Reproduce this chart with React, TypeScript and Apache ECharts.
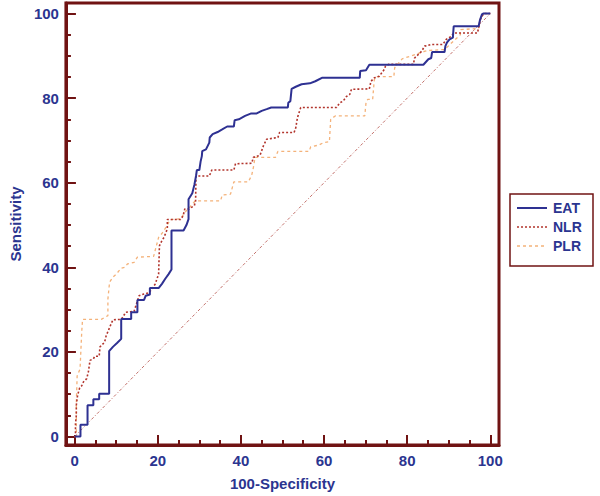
import React, { useEffect, useRef } from "react";
import * as echarts from "echarts";

const seriesNames = ["EAT", "NLR", "PLR"];

const eatCurve: number[][] = [
  [0, 0], [1.4, 0], [1.4, 2.8], [3.1, 2.8], [3.1, 7.4], [4.5, 7.4], [4.5, 8.8], [5.9, 8.8], [5.9, 10.1],
  [8.3, 10.1], [8.3, 20.2], [9.2, 21.2], [10.2, 22.1], [11.2, 23.1], [11.2, 27.8], [13.6, 27.8], [13.6, 29.4],
  [15.1, 29.4], [15.1, 32.3], [16.7, 32.3], [17.1, 33.3], [18.1, 33.6], [18.1, 35.1], [20.2, 35.1], [21.0, 36.1],
  [21.8, 37.3], [22.6, 38.4], [23.3, 39.5], [23.3, 48.7], [26.2, 48.7], [26.9, 50.0], [27.4, 51.4], [27.4, 56.1],
  [28.3, 57.5], [28.8, 59.5], [29.2, 61.6], [29.4, 63.0], [30.0, 63.0], [30.3, 65.0], [30.6, 66.3], [30.7, 67.5],
  [31.6, 67.9], [32.4, 69.5], [32.5, 70.7], [33.2, 71.5], [34.4, 72.0], [35.5, 72.6], [36.7, 73.3], [38.3, 73.3],
  [38.5, 74.8], [39.5, 75.0], [41.0, 75.8], [42.5, 76.4], [43.8, 76.4], [45.0, 77.0], [46.2, 77.4], [47.3, 77.8],
  [51.3, 77.8], [51.4, 78.9], [51.9, 79.3], [52.2, 82.2], [53.2, 82.7], [54.6, 83.3], [56.6, 83.5], [57.9, 84.0],
  [59.5, 84.8], [68.6, 84.8], [68.7, 86.4], [70.1, 86.6], [70.9, 87.9], [83.9, 87.9], [85.1, 89.2], [85.8, 89.5],
  [86.0, 90.9], [89.0, 90.9], [89.2, 92.3], [89.6, 93.2], [90.2, 93.9], [91.0, 94.3], [91.2, 97.0], [97.2, 97.0],
  [97.5, 98.4], [98.0, 99.8], [98.3, 100], [100, 100],
];

const nlrCurve: number[][] = [
  [0, 0], [0.2, 0], [0.2, 3.1], [0.4, 5.0], [0.4, 7.4], [0.7, 9.7], [1.2, 11.5], [1.7, 12.0], [2.1, 12.9],
  [2.9, 13.7], [3.3, 15.3], [3.7, 18.0], [4.5, 18.4], [4.9, 19.0], [5.9, 19.0], [6.1, 21.2], [7.2, 22.3],
  [7.6, 23.9], [8.0, 24.8], [8.8, 26.7], [9.2, 27.6], [11.2, 27.7], [12.0, 28.9], [12.3, 29.4], [13.4, 29.5],
  [14.3, 29.6], [15.5, 33.3], [16.7, 33.7], [17.9, 34.0], [18.6, 34.9], [19.4, 36.1], [20.2, 38.4], [20.4, 45.1],
  [21.0, 46.3], [21.5, 47.1], [22.3, 49.1], [22.3, 51.3], [25.5, 51.3], [26.1, 52.2], [26.5, 53.8], [27.5, 53.8],
  [28.8, 54.6], [29.1, 55.7], [29.2, 61.6], [32.4, 61.6], [33.0, 63.0], [38.3, 63.0], [38.7, 64.5], [42.6, 64.6],
  [43.0, 66.0], [44.6, 66.5], [45.4, 68.7], [46.2, 70.3], [48.9, 70.7], [49.3, 71.9], [52.8, 71.9], [53.2, 73.0],
  [53.6, 75.4], [54.4, 77.8], [63.0, 77.8], [63.8, 78.9], [64.6, 79.3], [65.4, 80.4], [66.2, 80.9], [66.6, 82.1],
  [70.9, 82.2], [71.3, 84.0], [72.1, 84.8], [73.3, 85.2], [74.5, 86.8], [74.8, 87.6], [75.6, 88.0], [81.5, 88.0],
  [81.8, 89.5], [83.5, 91.1], [84.2, 92.3], [85.8, 92.7], [88.6, 92.7], [89.4, 93.9], [90.6, 94.6], [91.2, 95.4],
  [96.9, 95.4], [97.2, 96.6], [97.6, 98.6], [98.4, 100], [100, 100],
];

const plrCurve: number[][] = [
  [0, 0], [0.4, 0], [0.4, 8.0], [0.6, 14.3], [1.3, 16.0], [1.7, 24.7], [1.9, 27.7], [6.4, 27.7], [8.0, 28.6],
  [8.0, 32.5], [8.4, 36.5], [9.2, 37.7], [10.0, 38.4], [11.2, 39.8], [12.0, 40.0], [12.7, 40.8], [14.3, 41.2],
  [15.1, 42.4], [19.0, 42.6], [20.2, 47.1], [21.0, 48.0], [22.0, 49.5], [23.0, 51.3], [25.5, 51.5], [26.5, 53.0],
  [27.5, 54.0], [29.0, 55.7], [35.1, 55.7], [35.5, 57.1], [37.5, 57.3], [38.3, 60.2], [41.8, 60.2], [42.6, 61.8],
  [43.0, 63.6], [43.4, 66.0], [48.3, 66.0], [48.9, 67.4], [56.4, 67.4], [56.8, 68.5], [58.7, 68.9], [59.9, 69.5],
  [61.3, 69.7], [61.6, 75.0], [62.7, 75.8], [69.8, 75.8], [70.1, 78.9], [70.5, 79.7], [71.7, 79.7], [72.1, 84.4],
  [72.5, 85.1], [76.8, 85.1], [77.0, 87.2], [78.8, 89.3], [81.9, 90.3], [84.3, 91.1], [85.5, 91.3], [89.0, 91.5],
  [92.8, 95.0], [92.9, 96.2], [97.2, 96.5], [97.6, 98.5], [98.4, 100], [100, 100],
];

const diagonal: number[][] = [[0, 0], [100, 100]];

const majorTicks = [0, 20, 40, 60, 80, 100];
const minorTicks = [0, 5, 10, 15, 20, 25, 30, 35, 40, 45, 50, 55, 60, 65, 70, 75, 80, 85, 90, 95, 100];

const AXIS_RED = "#701313";
const TEXT_BLUE = "#2b3590";
const FONT = "'Liberation Sans', Arial, sans-serif";

const seriesColors = ["#2e3192", "#b2342c", "#f4b27a"];
const seriesDash: (number[] | null)[] = [null, [2, 2], [3, 3]];
const seriesWidth = [2, 1.6, 1.3];

export default function App() {
  const ref = useRef<HTMLDivElement>(null);
  useEffect(() => {
    if (!ref.current) return;
    const chart = echarts.init(ref.current, undefined, { renderer: "svg" });
    const axisBase = (isX: boolean, major: boolean) => ({
      type: "value",
      position: isX ? "bottom" : "left",
      min: isX ? -2.1 : -2.0,
      max: isX ? 102.1 : 102.5,
      splitLine: { show: false },
      axisLine: major
        ? { show: true, onZero: false, lineStyle: { color: AXIS_RED, width: 3 } }
        : { show: false, onZero: false },
      axisTick: {
        show: true,
        inside: true,
        length: major ? 10 : 5,
        customValues: major ? majorTicks : minorTicks,
        lineStyle: { color: AXIS_RED, width: 2 },
      },
      axisLabel: major
        ? {
            show: true,
            customValues: majorTicks,
            color: TEXT_BLUE,
            fontSize: 15,
            fontWeight: "bold",
            fontFamily: FONT,
            margin: isX ? 8 : 7,
          }
        : { show: false },
      name: major ? (isX ? "100-Specificity" : "Sensitivity") : "",
      nameLocation: "middle",
      nameGap: isX ? 31 : 39,
      nameTextStyle: { color: TEXT_BLUE, fontSize: 15, fontWeight: "bold", fontFamily: FONT },
    });

    const legendX = 510;
    const legendY = 194;
    const legendRowY = [208, 227, 246];
    const legendGraphics: any[] = [
      {
        type: "rect",
        shape: { x: legendX, y: legendY, width: 83, height: 72 },
        style: { fill: "#fff", stroke: AXIS_RED, lineWidth: 1.5 },
        z: 10,
      },
    ];
    seriesNames.forEach((name, i) => {
      legendGraphics.push({
        type: "line",
        shape: { x1: 517, y1: legendRowY[i], x2: 547, y2: legendRowY[i] },
        style: {
          stroke: seriesColors[i],
          lineWidth: seriesWidth[i],
          lineDash: seriesDash[i] || undefined,
        },
        z: 11,
      });
      legendGraphics.push({
        type: "text",
        x: 553,
        y: legendRowY[i],
        style: {
          text: name,
          fill: TEXT_BLUE,
          font: `bold 14px ${FONT}`,
          textVerticalAlign: "middle",
          verticalAlign: "middle",
        },
        z: 11,
      });
    });

    chart.setOption({
      animation: false,
      backgroundColor: "#ffffff",
      grid: {
        left: 57,
        right: 101,
        top: 3,
        bottom: 49,
        show: true,
        borderColor: AXIS_RED,
        borderWidth: 3,
        backgroundColor: "transparent",
      },
      xAxis: [axisBase(true, true), axisBase(true, false)],
      yAxis: [axisBase(false, true), axisBase(false, false)],
      graphic: legendGraphics,
      series: [
        {
          name: "Reference",
          type: "line",
          data: diagonal,
          symbol: "none",
          silent: true,
          lineStyle: { color: "#c2706a", width: 1, type: [3, 2, 1, 2] },
        },
        {
          name: "PLR",
          type: "line",
          data: plrCurve,
          symbol: "none",
          lineStyle: { color: seriesColors[2], width: seriesWidth[2], type: seriesDash[2] },
        },
        {
          name: "NLR",
          type: "line",
          data: nlrCurve,
          symbol: "none",
          lineStyle: { color: seriesColors[1], width: seriesWidth[1], type: seriesDash[1] },
        },
        {
          name: "EAT",
          type: "line",
          data: eatCurve,
          symbol: "none",
          lineStyle: { color: seriesColors[0], width: seriesWidth[0] },
        },
      ],
    });
    return () => chart.dispose();
  }, []);
  return (
    <div
      ref={ref}
      style={{ position: "fixed", left: 0, top: 0, width: 600, height: 496, background: "#fff" }}
    />
  );
}
